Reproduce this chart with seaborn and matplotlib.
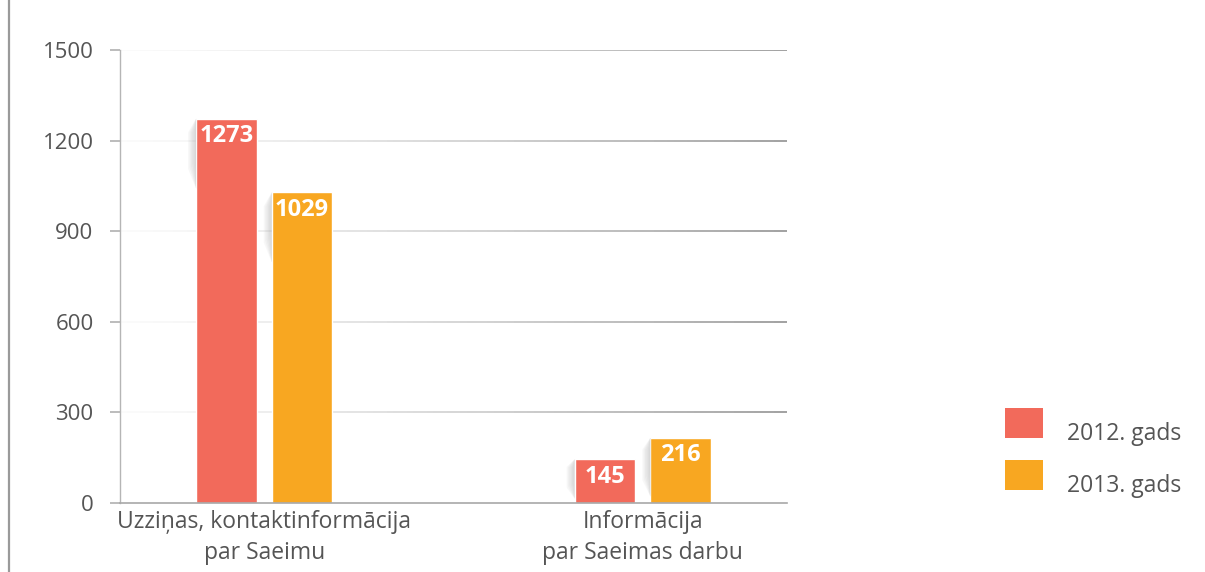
import matplotlib
matplotlib.use("Agg")
import matplotlib.pyplot as plt
import matplotlib.transforms as mtransforms
from matplotlib.collections import LineCollection
from matplotlib.patches import Rectangle, Patch, Polygon
from matplotlib.legend_handler import HandlerPatch
from matplotlib.lines import Line2D
import seaborn as sns
import pandas as pd
import numpy as np

# ---- data ----
categories = ["Uzziņas, kontaktinformācija\npar Saeimu", "Informācija\npar Saeimas darbu"]
series_names = ["2012. gads", "2013. gads"]
values_2012 = [1273, 145]
values_2013 = [1029, 216]
yticks = [0, 300, 600, 900, 1200, 1500]
colors = ["#F26A5B", "#F8A721"]

sns.set_theme(style="white")
plt.rcParams["font.family"] = ["Open Sans", "DejaVu Sans"]

df = pd.DataFrame({
    "category": categories * 2,
    "series": [series_names[0]] * len(categories) + [series_names[1]] * len(categories),
    "value": values_2012 + values_2013,
})

W, H = 1205, 572
fig = plt.figure(figsize=(W / 100, H / 100), dpi=100)
fig.patch.set_facecolor("white")
ax = fig.add_axes([120 / W, 1 - 503 / H, 667 / W, 453 / H])

sns.barplot(data=df, x="category", y="value", hue="series", palette=colors,
            width=0.4, gap=0.2, saturation=1, ax=ax, legend=False, errorbar=None)

ax.set_xlim(-0.381, 1.381)
ax.set_ylim(0, 1500)
ax.set_yticks(yticks)
ax.set_xlabel("")
ax.set_ylabel("")
ax.set_facecolor("white")

# spines
for s in ["top", "right"]:
    ax.spines[s].set_visible(False)
ax.spines["left"].set_color("#b5b5b5")
ax.spines["left"].set_linewidth(1.0)
ax.spines["bottom"].set_color("#a8a8a8")
ax.spines["bottom"].set_linewidth(1.2)

ax.tick_params(axis="y", which="major", length=7, width=1.2, color="#b0b0b0",
               pad=12, labelsize=16, labelcolor="#555555", direction="out", left=True)
ax.tick_params(axis="x", length=0, pad=5, labelsize=16.5, labelcolor="#555555")
for lab in ax.get_xticklabels():
    lab.set_linespacing(1.38)

# gradient gridlines (white -> gray), drawn from the y ticks
trans = mtransforms.blended_transform_factory(ax.transAxes, ax.transData)
n = 100
xs = np.linspace(0, 1, n + 1)
for yv in ax.get_yticks()[1:]:
    segs = [[(xs[i], yv), (xs[i + 1], yv)] for i in range(n)]
    t = (xs[:-1] + xs[1:]) / 2
    g = 0.98 - 0.45 * t ** 1.3
    cols = [(v, v, v) for v in g]
    lc = LineCollection(segs, colors=cols, linewidths=1.1, transform=trans, zorder=0.5)
    ax.add_collection(lc)

# subtle "page curl" shadows to the left of each bar top, derived from bar geometry
bar_patches = [p for p in ax.patches if p.get_height() > 0]
for p in bar_patches:
    X, Y = ax.transData.transform((p.get_x(), p.get_height()))
    _, Y0 = ax.transData.transform((p.get_x(), 0))
    L = min(70.0, (Y - Y0) * 0.9)
    steps = 6
    for k in range(steps):
        f = (k + 1) / steps
        poly = Polygon([(X, Y), (X - 8 * f, Y - 0.2 * L), (X - 8 * f, Y - (0.57 + 0.15 * f) * L),
                        (X, Y - L)],
                       closed=True, transform=None, facecolor="#9a9a9a",
                       edgecolor="none", alpha=0.07, zorder=1)
        ax.add_artist(poly)

# bar value labels
for p in bar_patches:
    h = p.get_height()
    ax.annotate(f"{int(round(h))}", (p.get_x() + p.get_width() / 2, h),
                xytext=(0, -4), textcoords="offset points", ha="center", va="top",
                color="white", fontweight="bold", fontsize=17, zorder=5)

# left decorative vertical rule
fig.add_artist(Line2D([9 / W, 9 / W], [0.0, 1.0], transform=fig.transFigure,
                      color="#9a9a9a", linewidth=1.6))


class ShiftedHandler(HandlerPatch):
    def create_artists(self, legend, orig_handle, xdescent, ydescent, width, height,
                       fontsize, trans):
        r = Rectangle((-xdescent, -ydescent + 0.33 * height), width, height,
                      facecolor=orig_handle.get_facecolor(), edgecolor="none",
                      transform=trans)
        return [r]


handles = [Patch(facecolor=c, label=s) for c, s in zip(colors, series_names)]
fig.legend(handles=handles, loc="upper left", bbox_to_anchor=(1005 / W, 1 - 418 / H),
           frameon=False, fontsize=16.5, handlelength=1.66, handleheight=1.62,
           handletextpad=1.05, labelspacing=0.96, borderpad=0, borderaxespad=0,
           handler_map={Patch: ShiftedHandler()}, labelcolor="#555555")

fig.savefig("out.png", dpi=100)
